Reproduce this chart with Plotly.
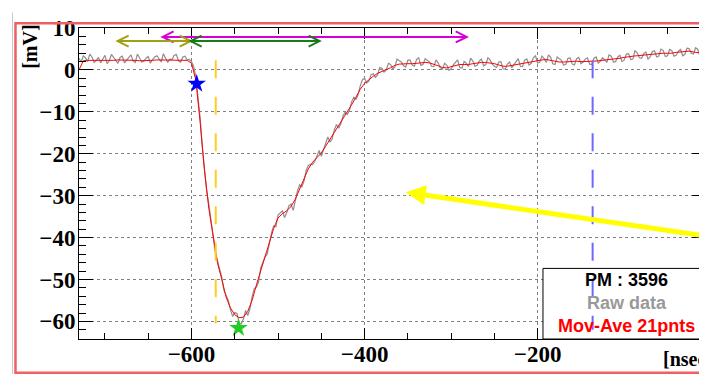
import numpy as np
import plotly.graph_objects as go

# ---------------- data ----------------
time_ns = np.arange(-730, 0, 5)          # -730 ... -5 ns (moving average grid)
raw_time_ns = np.arange(-730, -4, 2.5)   # -730 ... -5 ns (raw samples)

# raw samples on the whole-5ns points
raw_mv = [
    2.8, 3.4, 2.0, 3.1, 2.3, 1.7, 3.5, 2.2, 2.9, 1.6,        # -730..-685
    3.3, 2.4, 3.6, 1.8, 2.7, 2.1, 3.2, 2.5, 3.4, 1.9,        # -680..-635
    3.0, 2.6, 3.5, 2.2, 3.1, 2.4, 2.0, -1.5, -11.5, -23.5,   # -630..-585
    -32.0, -39.5, -45.5, -49.5, -53.8, -57.2, -57.9, -60.3, -59.4, -58.6,  # -580..-535
    -54.2, -51.8, -47.2, -44.6, -40.9, -37.2, -34.6, -33.6, -34.1, -32.0,  # -530..-485
    -31.0, -27.4, -26.5, -22.8, -22.6, -20.5, -20.6, -17.4, -17.2, -14.3,  # -480..-435
    -13.9, -11.0, -10.6, -7.6, -7.0, -3.8, -2.0, -2.6, -0.9, -1.2,         # -430..-385
    0.4, 0.0, 1.3, 0.7, 2.2, 1.0, 2.3, 1.2, 2.5, 1.1,        # -380..-335
    2.7, 1.9, 0.8, 1.7, 0.2, 1.1, 0.3, 1.8, 0.6, 2.0,        # -330..-285
    0.8, 2.2, 1.1, 2.6, 1.3, 2.4, 0.9, 1.9, 0.3, 1.4,        # -280..-235
    0.5, 2.0, 0.9, 2.4, 1.2, 2.9, 1.7, 3.3, 1.8, 3.0,        # -230..-185
    1.3, 2.6, 1.2, 2.8, 1.4, 2.7, 1.5, 2.6, 1.4, 2.8,        # -180..-135
    1.6, 2.9, 1.8, 3.3, 2.0, 3.5, 2.4, 3.9, 2.6, 4.1,        # -130..-85
    2.8, 4.3, 3.1, 4.6, 3.3, 4.7, 3.4, 4.6, 3.5, 5.0,        # -80..-35
    3.7, 5.1, 3.8, 4.9, 3.6, 4.4,                            # -30..-5
]

# raw samples on the half points (-727.5 ... -7.5)
raw_mid_mv = [
    1.9, 2.9, 3.8, 1.8, 3.0, 2.6, 1.5, 3.7, 2.4, 3.0,        # -727.5..-682.5
    1.7, 2.9, 2.2, 3.8, 1.9, 2.8, 1.6, 3.1, 2.7, 3.9,        # -677.5..-632.5
    1.8, 2.5, 3.7, 1.9, 3.3,                                 # -627.5..-607.5
    2.5, 0.8, -6.0, -18.5, -28.8,                            # -602.5..-582.5
    -36.0, -43.6, -47.2, -52.6, -55.0,                       # -577.5..-557.5
    -58.8, -58.1, -60.6, -57.4, -57.0,                       # -552.5..-532.5
    -52.2, -50.6, -46.0, -43.9, -38.8,                       # -527.5..-507.5
    -37.4, -34.0, -35.2, -32.4, -33.5,                       # -502.5..-482.5
    -28.8, -27.9, -24.0, -22.5, -21.8,                       # -477.5..-457.5
    -19.2, -19.0, -16.0, -16.4, -13.0,                       # -452.5..-432.5
    -12.9, -10.1, -9.6, -6.5, -5.9,                          # -427.5..-407.5
    -2.3, -3.1, -1.1, -1.8, 0.6,                             # -402.5..-382.5
    -0.5, 1.6, 0.3, 2.6, 1.9,                                # -377.5..-357.5
    0.7, 2.4, 0.9, 2.9, 1.3, 2.2, 0.9, 2.4, 0.5, 1.6,        # -352.5..-307.5
    -0.1, 1.2, 2.4, 0.4, 1.6, 2.8, 0.9, 2.1, 1.0, 2.9,       # -302.5..-257.5
    1.4, 0.6, 2.0, 0.2, 1.9, 1.4, 2.7, 0.8, 2.6, 1.6,        # -252.5..-207.5
    3.4, 1.9, 2.7, 3.6, 1.5, 3.1, 2.3, 1.3, 2.9, 1.2,        # -202.5..-157.5
    3.0, 1.9, 2.9, 1.3, 3.1, 2.1, 2.2, 3.6, 1.9, 3.1,        # -152.5..-107.5
    2.0, 3.8, 2.5, 4.6, 2.9, 3.9, 2.6, 4.4, 3.1, 5.0,        # -102.5..-57.5
    3.2, 4.9, 3.3, 4.4, 3.4, 5.2, 4.0, 5.3, 3.3, 4.6,        # -52.5..-7.5
]

movave_mv = [
    0.0, 2.2, 2.3, 2.3, 2.3, 2.2, 2.2, 2.3, 2.3, 2.4,        # -730..-685
    2.4, 2.3, 2.3, 2.3, 2.2, 2.2, 2.3, 2.3, 2.4, 2.4,        # -680..-635
    2.4, 2.3, 2.3, 2.4, 2.4, 2.3, 1.6, -2.4, -12.5, -24.0,   # -630..-585
    -33.0, -40.0, -46.0, -50.0, -54.2, -56.8, -58.4, -59.1, -59.0, -57.6,  # -580..-535
    -55.0, -51.3, -48.0, -44.8, -41.5, -37.8, -35.3, -34.3, -33.6, -32.6,  # -530..-485
    -30.8, -28.3, -25.8, -23.6, -22.0, -21.0, -19.8, -18.2, -16.6, -15.0,  # -480..-435
    -13.4, -11.8, -10.0, -8.3, -6.5, -4.6, -3.2, -2.3, -1.5, -0.8,         # -430..-385
    -0.3, 0.1, 0.5, 1.1, 1.4, 1.5, 1.5, 1.5, 1.6, 1.7,       # -380..-335
    1.8, 1.7, 1.4, 1.0, 0.6, 0.5, 0.8, 1.1, 1.3, 1.3,        # -330..-285
    1.3, 1.5, 1.7, 1.8, 1.8, 1.7, 1.5, 1.2, 0.9, 0.9,        # -280..-235
    1.1, 1.3, 1.5, 1.7, 1.8, 2.1, 2.3, 2.4, 2.5, 2.3,        # -230..-185
    2.0, 1.9, 1.9, 2.0, 2.0, 2.1, 2.0, 2.0, 2.1, 2.1,        # -180..-135
    2.2, 2.3, 2.5, 2.6, 2.7, 2.8, 3.0, 3.2, 3.3, 3.4,        # -130..-85
    3.5, 3.6, 3.8, 3.9, 3.9, 4.0, 4.0, 4.0, 4.2, 4.3,        # -80..-35
    4.4, 4.5, 4.3, 4.2, 4.0, 0.0,                            # -30..-5
]

raw_all_mv = np.empty(len(raw_time_ns))
raw_all_mv[0::2] = raw_mv
raw_all_mv[1::2] = raw_mid_mv

# marker points (ns, mV)
start_star = (-594.0, -3.3)
peak_star = (-545.7, -61.6)

# vertical dashed markers (ns) and their extent (mV)
orange_x, orange_y = -572.0, (2.3, -60.5)
blue_x, blue_y = -136.5, (2.3, -62.0)

# double arrows: (x_start, x_end, y)
olive_arrow = (-685.4, -601.0, 6.9)
magenta_arrow = (-633.4, -282.0, 7.9)
green_arrow = (-601.0, -452.0, 6.9)

# yellow pointer arrow: tail -> tip
yellow_tail = (0.0, -39.8)
yellow_tip = (-352.5, -29.2)

pm_label = "PM : 3596"

# ---------------- figure ----------------
fig = go.Figure()
fig.add_trace(go.Scatter(x=raw_time_ns, y=raw_all_mv, mode="lines",
                         line=dict(color="#8e8e8e", width=1.2), showlegend=False))
fig.add_trace(go.Scatter(x=time_ns, y=movave_mv, mode="lines",
                         line=dict(color="#ff0000", width=1), showlegend=False))
fig.add_trace(go.Scatter(x=[start_star[0]], y=[start_star[1]], mode="markers",
                         marker=dict(symbol="star", size=14, color="#0000ff"),
                         showlegend=False, cliponaxis=False))
fig.add_trace(go.Scatter(x=[peak_star[0]], y=[peak_star[1]], mode="markers",
                         marker=dict(symbol="star", size=14, color="#22cc22"),
                         showlegend=False, cliponaxis=False))

shapes = []
# outer frames (pad borders)
shapes.append(dict(type="line", xref="paper", yref="paper", x0=-0.1061, x1=-0.1061,
                   y0=1.05, y1=-0.2, line=dict(color="#c8c8c8", width=1)))
shapes.append(dict(type="rect", xref="paper", yref="paper", x0=-0.1013, x1=1.05,
                   y0=-0.1085, y1=1.0155, line=dict(color="#f06060", width=2.5)))

# legend box
shapes.append(dict(type="rect", xref="paper", yref="paper", x0=0.740, x1=1.05,
                   y0=0.0, y1=0.227, fillcolor="white",
                   line=dict(color="black", width=1), layer="above"))

# dashed vertical lines
shapes.append(dict(type="line", xref="x", yref="y", x0=orange_x, x1=orange_x,
                   y0=orange_y[0], y1=orange_y[1],
                   line=dict(color="#ffcc22", width=2, dash="18px,18.5px"), layer="above"))
shapes.append(dict(type="line", xref="x", yref="y", x0=blue_x, x1=blue_x,
                   y0=blue_y[0], y1=blue_y[1],
                   line=dict(color="#6a6aff", width=2, dash="18px,18.5px"), layer="above"))


def double_arrow(x0, x1, y, color):
    out = [dict(type="line", xref="x", yref="y", x0=x0, x1=x1, y0=y, y1=y,
                line=dict(color=color, width=2), layer="above")]
    out.append(dict(type="path", xref="x", yref="y", xsizemode="pixel", ysizemode="pixel",
                    xanchor=x0, yanchor=y, path="M 11,5.5 L 0,0 L 11,-5.5",
                    line=dict(color=color, width=2), layer="above"))
    out.append(dict(type="path", xref="x", yref="y", xsizemode="pixel", ysizemode="pixel",
                    xanchor=x1, yanchor=y, path="M -11,5.5 L 0,0 L -11,-5.5",
                    line=dict(color=color, width=2), layer="above"))
    return out


shapes += double_arrow(*magenta_arrow, "#d400d4")
shapes += double_arrow(*olive_arrow, "#a0a010")
shapes += double_arrow(*green_arrow, "#1a7a1a")

serif_bold = dict(family="Liberation Serif", size=23, color="black", weight="bold")
sans_bold = dict(family="Liberation Sans", size=18, weight="bold")

annotations = [
    dict(x=yellow_tip[0], y=yellow_tip[1], ax=yellow_tail[0], ay=yellow_tail[1],
         xref="x", yref="y", axref="x", ayref="y", text="", showarrow=True,
         arrowhead=2, arrowwidth=5, arrowsize=0.8, arrowcolor="#ffff00"),
    dict(xref="paper", yref="paper", x=0.874, y=0.189, text=pm_label, showarrow=False,
         font=dict(sans_bold, color="black"), xanchor="center", yanchor="middle"),
    dict(xref="paper", yref="paper", x=0.874, y=0.115, text="Raw data", showarrow=False,
         font=dict(sans_bold, color="#999999"), xanchor="center", yanchor="middle"),
    dict(xref="paper", yref="paper", x=0.874, y=0.043, text="Mov-Ave 21pnts", showarrow=False,
         font=dict(sans_bold, color="#ff0000"), xanchor="center", yanchor="middle"),
    dict(xref="paper", yref="paper", x=-0.0774, y=0.941, text="[mV]", textangle=-90,
         showarrow=False, font=dict(family="Liberation Serif", size=20, color="black", weight="bold"),
         xanchor="center", yanchor="middle"),
    dict(xref="paper", yref="paper", x=0.928, y=-0.065, text="[nsec]", showarrow=False,
         font=dict(family="Liberation Serif", size=20, color="black", weight="bold"),
         xanchor="left", yanchor="middle"),
    dict(xref="paper", yref="paper", x=1.008, y=-0.0217, text="0", showarrow=False,
         font=serif_bold, xanchor="center", yanchor="top"),
]

# the page body adds an 8px offset; margins are chosen so the plot frame lands
# at the reference position inside the 707x374 window
fig.update_layout(
    width=707, height=374,
    margin=dict(l=71, r=9, t=8, b=43),
    paper_bgcolor="white", plot_bgcolor="white",
    shapes=shapes, annotations=annotations,
    showlegend=False,
    xaxis=dict(range=[-730, -5.5], tick0=0, dtick=200, showgrid=True,
               gridcolor="#808080", griddash="dot", gridwidth=1,
               ticks="inside", ticklen=11, tickwidth=1, tickcolor="black",
               showline=True, linecolor="black", linewidth=1, mirror="ticks",
               zeroline=False, tickfont=serif_bold, ticklabelstandoff=-6,
               ticklabeloverflow="allow",
               minor=dict(tick0=0, dtick=50, ticks="inside", ticklen=6,
                          tickcolor="black", showgrid=False)),
    yaxis=dict(range=[-64.2, 10.02], tick0=0, dtick=10, showgrid=True,
               gridcolor="#808080", griddash="dot", gridwidth=1,
               ticks="inside", ticklen=14, tickwidth=1, tickcolor="black",
               showline=True, linecolor="black", linewidth=1, mirror="ticks",
               zeroline=False, tickfont=serif_bold, ticklabelstandoff=-2,
               ticklabeloverflow="allow",
               minor=dict(tick0=0, dtick=2, ticks="inside", ticklen=7,
                          tickcolor="black", showgrid=False)),
)

fig.write_html("out.html")
